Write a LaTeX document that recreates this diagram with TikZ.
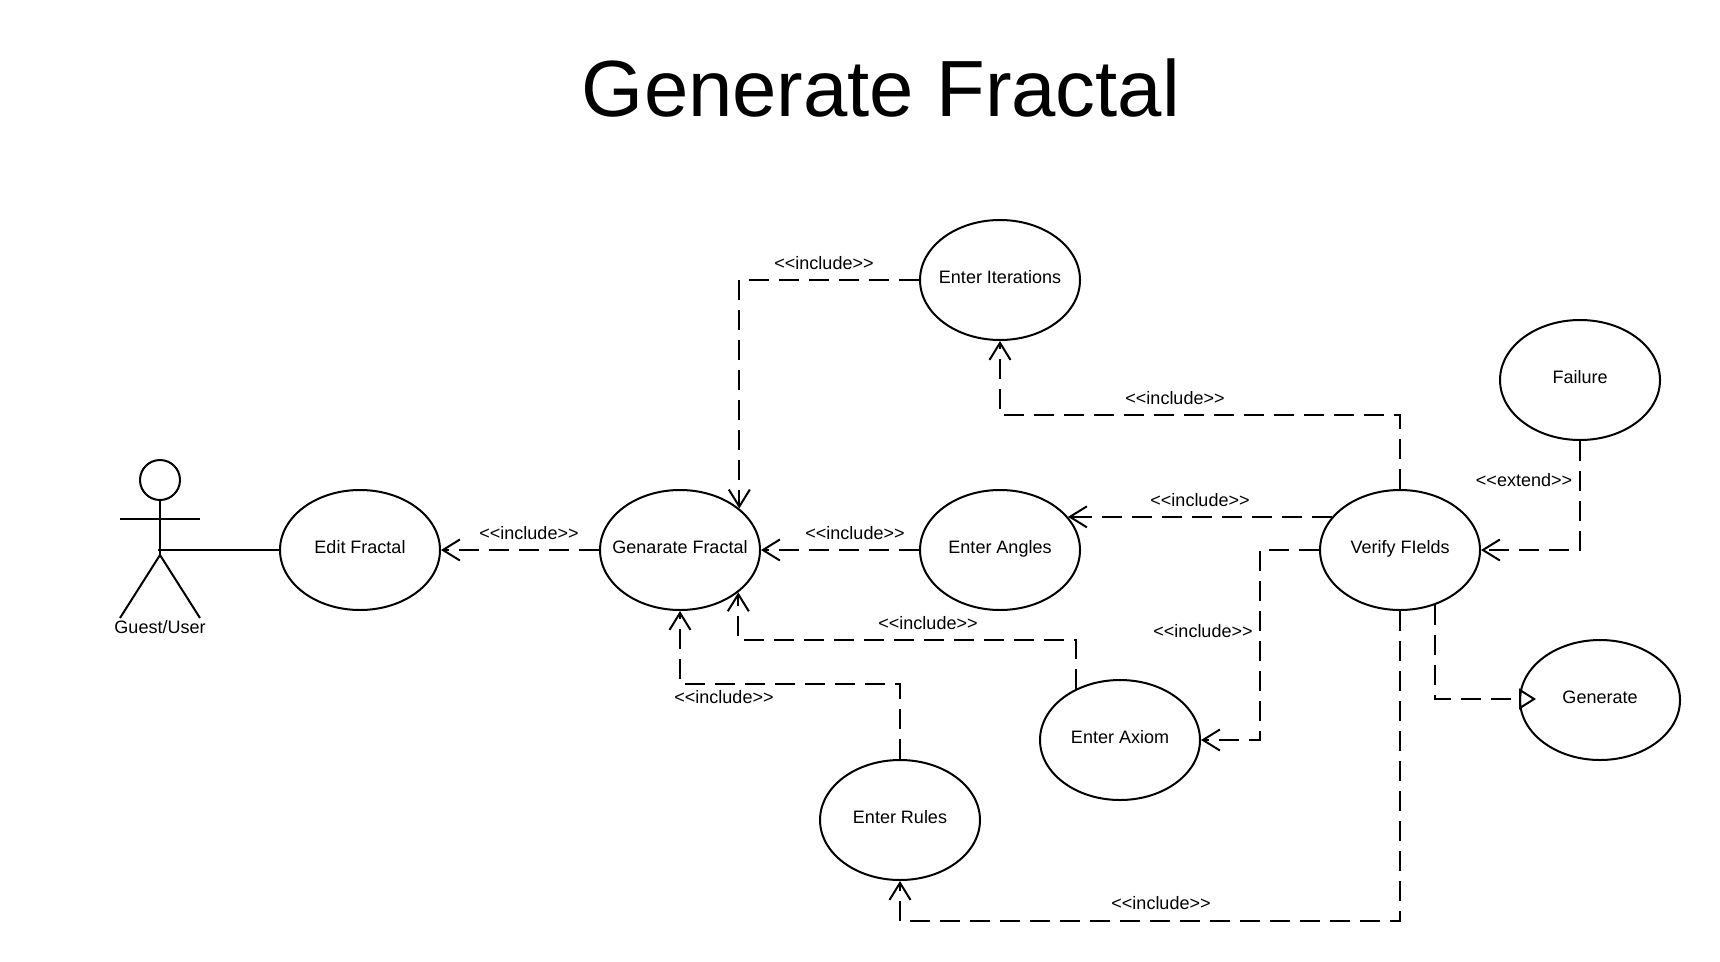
\documentclass[tikz,border=0pt]{standalone}
\usepackage{fontspec}
\setmainfont{Liberation Sans}
\usetikzlibrary{calc,arrows.meta,shapes.geometric}
\newcommand{\incl}{<{}<include>{}>}

\begin{document}
\begin{tikzpicture}[x=1pt,y=-1pt,line width=2pt,
     usecase/.style = {draw, ellipse, minimum width=160pt, minimum height=120pt, inner ysep=0pt, inner xsep=-30pt,
      font=\fontsize{18}{22}\selectfont, text height=13pt, text depth=6.4pt},
     lbl/.style = {font=\fontsize{18}{22}\selectfont, inner sep=0pt},
     dep/.style = {draw, dash pattern=on 20pt off 10pt, -{Straight Barb[length=17pt,width=21pt]}},
     ext/.style = {draw, dash pattern=on 20pt off 10pt, -{Triangle[open,fill=none,length=17pt,width=21pt]}}
    ]
    \useasboundingbox (0,0) rectangle (1720,961);
    \node [font=\fontsize{79.7}{96}\selectfont] (title) at (881,88) {Generate Fractal};

    % use cases
    \node [usecase] (edit) at (360,550) {Edit Fractal};
    \node [usecase, right of=edit, node distance=320pt] (gen) {Genarate Fractal};
    \node [usecase, right of=gen, node distance=320pt] (angles) {Enter Angles};
    \node [usecase, right of=angles, node distance=400pt] (verify) {Verify FIelds};
    \node [usecase, above of=angles, node distance=270pt] (iter) {Enter Iterations};
    \node [usecase, right of=verify, node distance=180pt, yshift=170pt] (fail) {Failure};
    \node [usecase, right of=verify, node distance=200pt, yshift=-150pt] (genr) {Generate};
    \node [usecase, right of=angles, node distance=120pt, yshift=-190pt] (axiom) {Enter Axiom};
    \node [usecase, right of=gen, node distance=220pt, yshift=-270pt] (rules) {Enter Rules};

    % actor
    \node [draw, circle, minimum size=40pt, inner sep=0pt] (head) at (160,480) {};
    \coordinate (neck) at (160,555);
    \coordinate (hip) at (158,550);
    \draw (head) -- (neck);
    \draw (120,519) -- (200,519);
    \draw (120,618) -- (neck) -- (200,618);
    \node [lbl] (actor) at (160,627) {Guest/User};
    \draw (hip) -- (edit.west);

    % connectors
    \draw[dep] (gen.west) -- (edit.east);
    \draw[dep] (iter.west) -| (gen.35.3);
    \draw[dep] (angles.west) -- (gen.east);
    \draw[dep] (verify.north) -- ++(0,-74) -| (iter.south);
    \draw[dep] (verify.154) -- (angles.26);
    \draw[dep] (verify.west) -- ++(-59,0) |- (axiom.east);
    \draw[dep] (verify.south) -- ++(0,310) -| (rules.south);
    \draw[dep] (axiom.131) -- ++(0,-48.5) -| (gen.-36.3);
    \draw[dep] (rules.north) -- ++(0,-75) -| (gen.south);
    \draw[dep] (fail.south) |- (verify.east);
    \draw[ext] (verify.-58) |- ($(genr.west)+(17,-1)$);

    % labels
    \node [lbl] (l1) at (529,533) {\incl};
    \node [lbl] (l2) at (824,263) {\incl};
    \node [lbl] (l3) at (855,533) {\incl};
    \node [lbl] (l4) at (1175,398) {\incl};
    \node [lbl] (l5) at (1200,500) {\incl};
    \node [lbl] (l6) at (1203,631) {\incl};
    \node [lbl] (l7) at (1161,903) {\incl};
    \node [lbl] (l8) at (928,623) {\incl};
    \node [lbl] (l9) at (724,697.5) {\incl};
    \node [lbl] (l10) at (1524,480) {<{}<extend>{}>};
\end{tikzpicture}
\end{document}
